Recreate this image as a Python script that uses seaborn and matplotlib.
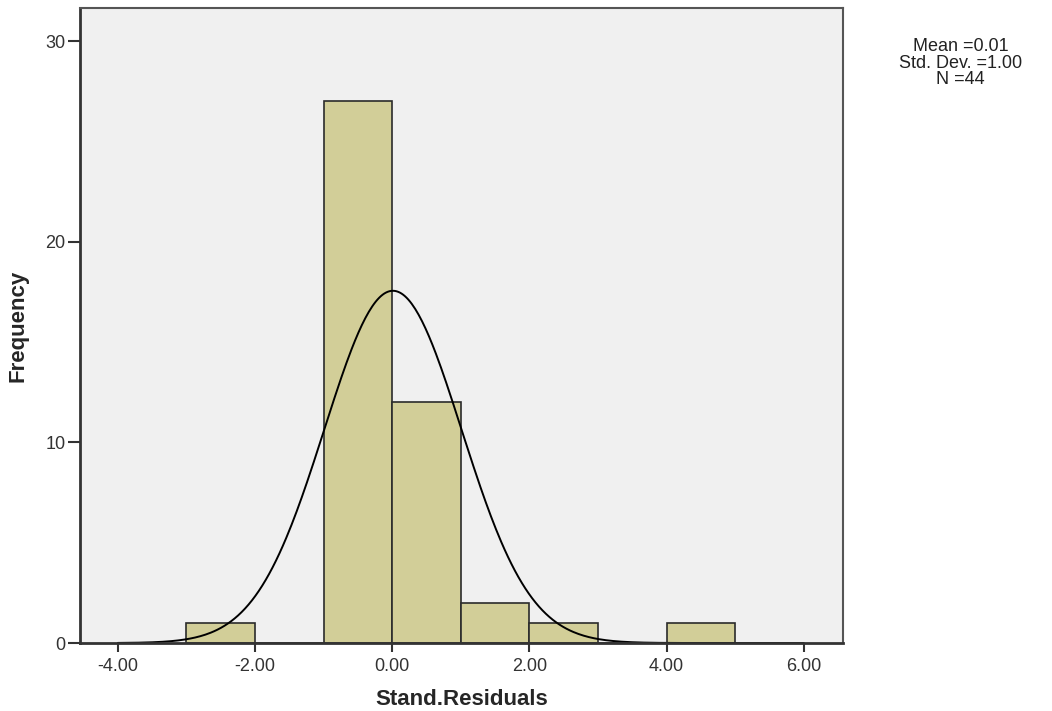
import numpy as np
import pandas as pd
import matplotlib
matplotlib.use('Agg')
import matplotlib.pyplot as plt
import seaborn as sns
from matplotlib.ticker import FormatStrFormatter

# Histogram data (bin edges and frequencies of standardized residuals)
bin_edges = [-3, -2, -1, 0, 1, 2, 3, 4, 5]
counts = [1, 0, 27, 12, 2, 1, 0, 1]
mean_val = 0.01
std_val = 1.00
n_obs = 44

sns.set_style('white')
plt.rcParams['font.family'] = ['Liberation Sans', 'DejaVu Sans']

centers = [(a + b) / 2 for a, b in zip(bin_edges[:-1], bin_edges[1:])]
df = pd.DataFrame({'resid': centers, 'freq': counts})

fig = plt.figure(figsize=(10.52, 7.11), dpi=100)
ax = fig.add_axes([0.076, 0.0956, 0.725, 0.893])
ax.set_facecolor('#F0F0F0')

sns.histplot(data=df, x='resid', weights='freq', bins=bin_edges, ax=ax,
             color='#D2CE98', edgecolor='#2B2B2B', linewidth=1.2, alpha=1)

# Normal curve scaled to counts
xs = np.linspace(-4, 6, 400)
bw = bin_edges[1] - bin_edges[0]
ys = n_obs * bw / (std_val * np.sqrt(2 * np.pi)) * np.exp(-0.5 * ((xs - mean_val) / std_val) ** 2)
sns.lineplot(x=xs, y=ys, ax=ax, color='black', linewidth=1.4)

ax.set_xlim(-4.553, 6.568)
ax.set_ylim(0, 31.64)
ax.set_xticks([-4, -2, 0, 2, 4, 6])
ax.set_yticks([0, 10, 20, 30])
ax.xaxis.set_major_formatter(FormatStrFormatter('%.2f'))
ax.tick_params(axis='both', direction='out', width=1.5, color='#333333',
               labelsize=13, labelcolor='#333333', bottom=True, left=True)
ax.tick_params(axis='x', length=6.5, pad=4)
ax.tick_params(axis='y', length=8.5, pad=2)

for side in ['left', 'bottom']:
    ax.spines[side].set_color('#333333')
    ax.spines[side].set_linewidth(2)
for side in ['top', 'right']:
    ax.spines[side].set_color('#555555')
    ax.spines[side].set_linewidth(1.5)

ax.set_xlabel('Stand.Residuals', fontsize=16, fontweight='bold', labelpad=10)
ax.set_ylabel('Frequency', fontsize=16, fontweight='bold', labelpad=12)

fig.text(0.913, 0.911, 'Mean =%.2f\nStd. Dev. =%.2f\nN =%d' % (mean_val, std_val, n_obs),
         ha='center', va='center', fontsize=13, linespacing=0.95, color='#222222')

plt.savefig('out.png', dpi=100)
